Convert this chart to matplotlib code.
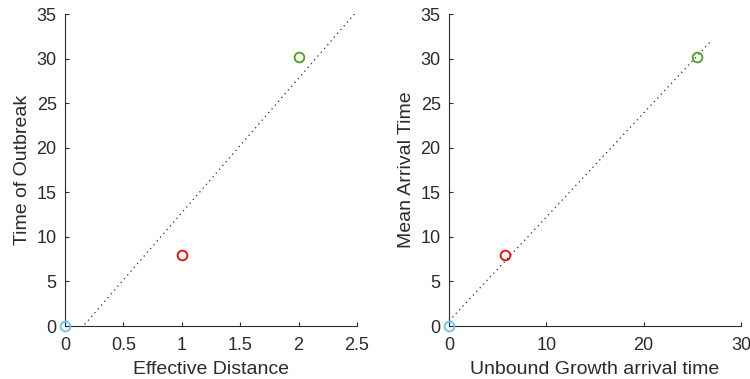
import numpy as np
import matplotlib
matplotlib.use("Agg")
import matplotlib.pyplot as plt

plt.rcParams['font.family'] = ['Liberation Sans', 'DejaVu Sans']

eff_dist = [0.0, 1.0, 2.0]
outbreak_time = [0.0, 8.0, 30.15]
unbound_time = [0.0, 5.75, 25.5]
mean_arrival = [0.0, 8.0, 30.15]
colors = ['#6fbff5', '#ff0000', '#4ca21b']

fig = plt.figure(figsize=(7.5, 3.79), dpi=100)
ax1 = fig.add_axes([0.0867, 0.1398, 0.3893, 0.8232])
ax2 = fig.add_axes([0.5987, 0.1398, 0.3893, 0.8232])

dark = '#2b2b2b'

def style(ax, xlim, xticks, xlabel, ylabel):
    ax.set_xlim(*xlim)
    ax.set_ylim(0, 35)
    ax.set_xticks(xticks)
    ax.set_yticks(np.arange(0, 36, 5))
    ax.set_xticklabels([('%g' % t) for t in xticks])
    for s in ['top', 'right']:
        ax.spines[s].set_visible(False)
    for s in ['left', 'bottom']:
        ax.spines[s].set_color(dark)
        ax.spines[s].set_linewidth(0.8)
    ax.tick_params(direction='in', length=3, width=0.8, colors=dark, labelsize=13)
    ax.tick_params(axis='x', pad=8)
    ax.tick_params(axis='y', pad=6)
    ax.set_xlabel(xlabel, fontsize=14, color=dark, labelpad=5)
    ax.set_ylabel(ylabel, fontsize=14, color=dark, labelpad=4)

# left panel
p1 = np.polyfit(eff_dist, outbreak_time, 1)
xl = np.linspace(0, 2.5, 200)
ax1.plot(xl, np.polyval(p1, xl), linestyle=(0, (1, 3)), color=dark, linewidth=0.9)
for x, y, c in zip(eff_dist, outbreak_time, colors):
    ax1.plot([x], [y], 'o', mfc='none', mec=c, mew=1.3, ms=7, clip_on=False, zorder=5)
style(ax1, (0, 2.5), [0, 0.5, 1, 1.5, 2, 2.5], 'Effective Distance', 'Time of Outbreak')

# right panel
p2 = np.polyfit(unbound_time, mean_arrival, 1)
xr = np.linspace(0, max(unbound_time) * 1.05, 200)
ax2.plot(xr, np.polyval(p2, xr), linestyle=(0, (1, 3)), color=dark, linewidth=0.9)
for x, y, c in zip(unbound_time, mean_arrival, colors):
    ax2.plot([x], [y], 'o', mfc='none', mec=c, mew=1.3, ms=7, clip_on=False, zorder=5)
style(ax2, (0, 30), [0, 10, 20, 30], 'Unbound Growth arrival time', 'Mean Arrival Time')

fig.savefig('out.png', dpi=100)
